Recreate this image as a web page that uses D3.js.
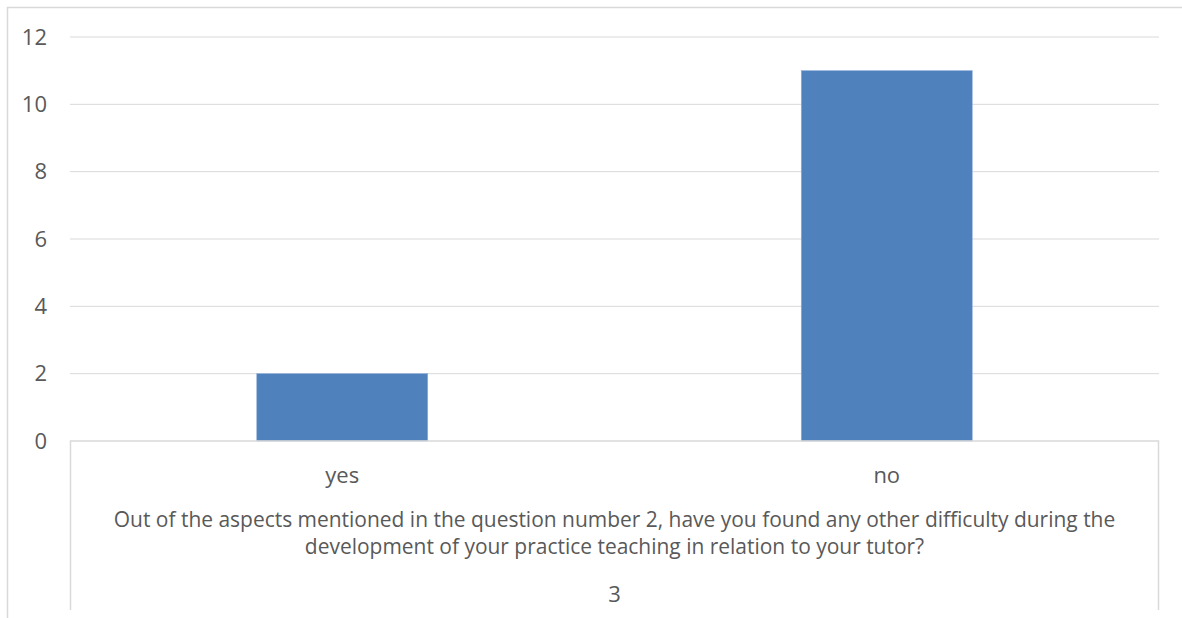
<!DOCTYPE html>
<html>
<head>
<meta charset="utf-8">
<script src="https://cdn.jsdelivr.net/npm/d3@7"></script>
<style>
    body { margin: 0; background: #fff; }
    text { font-family: "Open Sans", "Noto Sans", sans-serif; fill: #595959; }
</style>
</head>
<body>
<div id="chart"></div>
<script>
var categories = ["yes", "no"];
var values = [2, 11];
var yTicks = [0, 2, 4, 6, 8, 10, 12];
var titleLines = [
    "Out of the aspects mentioned in the question number 2, have you found any other difficulty during the",
    "development of your practice teaching in relation to your tutor?"
];
var groupLabel = "3";

var W = 1182, H = 618;
var margin = { left: 70, right: 23, top: 37, bottom: 177 };
var width = W - margin.left - margin.right;
var height = H - margin.top - margin.bottom;

var svg = d3.select("#chart").append("svg")
    .attr("width", W)
    .attr("height", H);

// chart frame
svg.append("path")
    .attr("d", "M7.5," + H + "V7.5H" + W)
    .attr("fill", "none")
    .attr("stroke", "#d9d9d9")
    .attr("stroke-width", 1.5);

var g = svg.append("g")
    .attr("transform", "translate(" + margin.left + "," + margin.top + ")");

var x = d3.scaleBand().domain(categories).range([0, width]).paddingInner(0.686).paddingOuter(0.343);
var y = d3.scaleLinear().domain([0, 12]).range([height, 0]);

// gridlines
g.selectAll("line.grid").data(yTicks.slice(1))
    .enter().append("line")
    .attr("class", "grid")
    .attr("x1", 0).attr("x2", width)
    .attr("y1", d => y(d)).attr("y2", d => y(d))
    .attr("stroke", "#d9d9d9")
    .attr("stroke-width", 1);

// y labels
g.selectAll("text.ytick").data(yTicks)
    .enter().append("text")
    .attr("class", "ytick")
    .attr("x", -23)
    .attr("y", d => y(d))
    .attr("dy", "0.35em")
    .attr("text-anchor", "end")
    .attr("font-size", "16px")
    .text(d => d);

// bars
g.selectAll("rect.bar").data(values)
    .enter().append("rect")
    .attr("class", "bar")
    .attr("x", (d, i) => x(categories[i]))
    .attr("width", x.bandwidth())
    .attr("y", d => y(d))
    .attr("height", d => height - y(d))
    .attr("fill", "#4f81bd")
    .attr("stroke", "#8eaedb")
    .attr("stroke-width", 0.6);

// category axis box (multi-level axis)
var boxBottom = height + 169;
g.append("path")
    .attr("d", "M0.5," + boxBottom + "V" + height + "H" + (width - 0.5) + "V" + boxBottom)
    .attr("fill", "none")
    .attr("stroke", "#d9d9d9")
    .attr("stroke-width", 1.5);

g.selectAll("text.xcat").data(categories)
    .enter().append("text")
    .attr("class", "xcat")
    .attr("x", d => x(d) + x.bandwidth() / 2)
    .attr("y", height + 34)
    .attr("dy", "0.35em")
    .attr("text-anchor", "middle")
    .attr("font-size", "16px")
    .text(d => d);

// two-line category title, one text element (y = baselines)
var title = g.append("text")
    .attr("class", "title")
    .attr("text-anchor", "middle")
    .attr("font-size", "16px");
title.selectAll("tspan").data(titleLines)
    .enter().append("tspan")
    .attr("x", width / 2)
    .attr("y", (d, i) => height + 86 + i * 27)
    .text(d => d);

// fit first line to the width seen in the original
var w0 = title.select("tspan").node().getComputedTextLength();
var fs = 16 * 1002 / w0;
title.attr("font-size", fs + "px");
g.selectAll("text.ytick, text.xcat").attr("font-size", (fs * 1.05) + "px");

g.append("text")
    .attr("x", width / 2)
    .attr("y", height + 161)
    .attr("text-anchor", "middle")
    .attr("font-size", (fs * 1.05) + "px")
    .text(groupLabel);
</script>
</body>
</html>
